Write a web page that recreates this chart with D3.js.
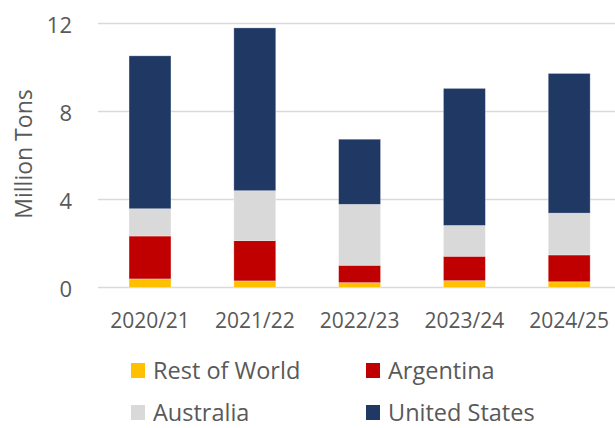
<!doctype html>
<html>
<head>
<meta charset="utf-8">
<title>Stacked bars with D3</title>
<script src="https://cdnjs.cloudflare.com/ajax/libs/d3/7.8.5/d3.min.js"></script>
<style>
  body { margin: 0; background: #fff; }
  svg text { font-family: "Open Sans", sans-serif; fill: #595959; }
</style>
</head>
<body>
<div id="chart"></div>
<script>
// marketing years
const years = ['2020/21', '2021/22', '2022/23', '2023/24', '2024/25'];
// million tons
const restOfWorld  = [0.39, 0.30, 0.22, 0.31, 0.26];
const argentina    = [1.95, 1.83, 0.79, 1.11, 1.22];
const australia    = [1.24, 2.27, 2.77, 1.40, 1.90];
const unitedStates = [6.95, 7.40, 2.96, 6.23, 6.35];
const yTicks = [0, 4, 8, 12];

const seriesNames = ['Rest of World', 'Argentina', 'Australia', 'United States'];
const colors = ['#FFC000', '#C00000', '#D9D9D9', '#1F3864'];

const table = years.map((y, i) => ({
  year: y,
  'Rest of World': restOfWorld[i],
  'Argentina': argentina[i],
  'Australia': australia[i],
  'United States': unitedStates[i]
}));

const width = 615, height = 428;
const svg = d3.select('#chart').append('svg')
  .attr('width', width)
  .attr('height', height);

const x = d3.scaleBand()
  .domain(years)
  .range([97.6, 621.6])
  .paddingInner(0.6)
  .paddingOuter(0.3);

const y = d3.scaleLinear()
  .domain([0, 12])
  .range([287.5, 23.5]);

// gridlines
svg.append('g')
  .selectAll('line')
  .data(yTicks)
  .join('line')
  .attr('x1', 98).attr('x2', 615)
  .attr('y1', d => y(d)).attr('y2', d => y(d))
  .attr('stroke', '#d9d9d9')
  .attr('stroke-width', 1.5);

// y tick labels
svg.append('g')
  .selectAll('text')
  .data(yTicks)
  .join('text')
  .attr('x', 72)
  .attr('y', d => y(d))
  .attr('text-anchor', 'end')
  .attr('dominant-baseline', 'central')
  .style('font-size', '22px')
  .text(d => d);

// y axis title
svg.append('text')
  .attr('transform', 'translate(23,154) rotate(-90)')
  .attr('text-anchor', 'middle')
  .attr('dominant-baseline', 'central')
  .style('font-size', '23px')
  .text('Million Tons');

// stacked bars
const stack = d3.stack().keys(seriesNames);
const layers = stack(table);

svg.append('g')
  .selectAll('g')
  .data(layers)
  .join('g')
  .attr('fill', (d, i) => colors[i])
  .selectAll('rect')
  .data(d => d)
  .join('rect')
  .attr('x', d => x(d.data.year))
  .attr('width', x.bandwidth())
  .attr('y', d => y(d[1]))
  .attr('height', d => y(d[0]) - y(d[1]))
  .attr('stroke', '#ffffff')
  .attr('stroke-opacity', 0.4)
  .attr('stroke-width', 0.75);

// x labels
svg.append('g')
  .selectAll('text')
  .data(years)
  .join('text')
  .attr('x', d => x(d) + x.bandwidth() / 2)
  .attr('y', 320)
  .attr('text-anchor', 'middle')
  .attr('dominant-baseline', 'central')
  .style('font-size', '21px')
  .text(d => d);

// legend, 2 columns (second row pulled up a bit so it is not clipped)
const legend = svg.append('g')
  .selectAll('g')
  .data(seriesNames)
  .join('g')
  .attr('transform', (d, i) => `translate(${131 + (i % 2) * 235},${370 + Math.floor(i / 2) * 42})`);

legend.append('rect')
  .attr('x', 0).attr('y', -7)
  .attr('width', 14).attr('height', 15)
  .attr('fill', (d, i) => colors[i]);

legend.append('text')
  .attr('x', 22)
  .attr('y', 0)
  .attr('dominant-baseline', 'central')
  .style('font-size', '23.5px')
  .text(d => d);
</script>
</body>
</html>
